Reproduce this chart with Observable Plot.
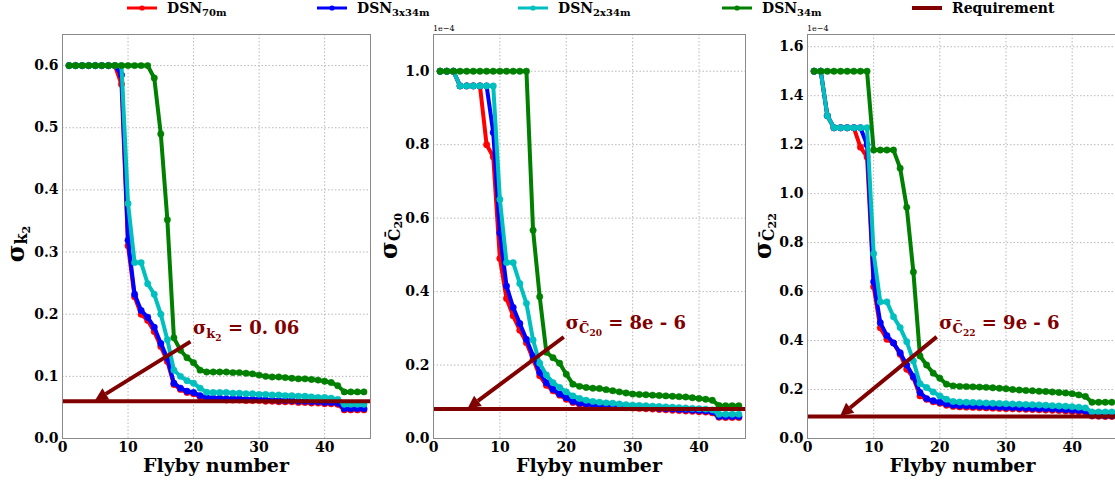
<!DOCTYPE html>
<html><head><meta charset="utf-8">
<script src="https://cdn.jsdelivr.net/npm/d3@7"></script>
<script src="https://cdn.jsdelivr.net/npm/@observablehq/plot@0.6"></script>
<style>
html,body{margin:0;padding:0;}
body{width:1115px;height:483px;overflow:hidden;background:#fff;position:relative;font-family:"DejaVu Serif",serif;}
.panel{position:absolute;top:0;width:380px;height:483px;}
.panel svg{max-width:none !important;}
#legend{position:absolute;top:0;left:0;width:1115px;height:20px;}
</style></head><body>
<svg id="legend" width="1115" height="20"></svg>
<div id="p1" class="panel" style="left:0px"></div>
<div id="p2" class="panel" style="left:375px"></div>
<div id="p3" class="panel" style="left:750px"></div>
<script>
// ---------------- data ----------------
const flyby = [1,2,3,4,5,6,7,8,9,10,11,12,13,14,15,16,17,18,19,20,21,22,23,24,25,26,27,28,29,30,31,32,33,34,35,36,37,38,39,40,41,42,43,44,45,46];
const seriesNames = ["DSN70m","DSN3x34m","DSN2x34m","DSN34m"];
const seriesSubs = ["70m","3x34m","2x34m","34m"];
const seriesColors = ["#ff0000","#0000ff","#00bfbf","#008000"];
const requirementLabel = "Requirement";
const requirementColor = "#800000";

// sigma k2
const k2_70m   = [0.6,0.6,0.6,0.6,0.6,0.6,0.6,0.6,0.57,0.31,0.228,0.20,0.19,0.172,0.148,0.124,0.087,0.079,0.074,0.072,0.067,0.064,0.063,0.063,0.062,0.062,0.062,0.061,0.061,0.061,0.060,0.060,0.059,0.059,0.059,0.058,0.058,0.057,0.057,0.056,0.056,0.055,0.046,0.046,0.046,0.046];
const k2_3x34m = [0.6,0.6,0.6,0.6,0.6,0.6,0.6,0.6,0.585,0.319,0.232,0.206,0.195,0.179,0.153,0.129,0.089,0.081,0.076,0.074,0.069,0.066,0.065,0.065,0.064,0.064,0.064,0.063,0.063,0.063,0.062,0.062,0.061,0.061,0.061,0.060,0.060,0.059,0.059,0.058,0.058,0.057,0.048,0.048,0.048,0.048];
const k2_2x34m = [0.6,0.6,0.6,0.6,0.6,0.6,0.6,0.6,0.6,0.378,0.283,0.283,0.249,0.232,0.20,0.159,0.11,0.10,0.093,0.089,0.081,0.0745,0.074,0.074,0.074,0.073,0.073,0.072,0.072,0.071,0.071,0.070,0.070,0.069,0.069,0.068,0.068,0.067,0.066,0.066,0.065,0.063,0.055,0.055,0.055,0.055];
const k2_34m   = [0.6,0.6,0.6,0.6,0.6,0.6,0.6,0.6,0.6,0.6,0.6,0.6,0.6,0.58,0.49,0.352,0.162,0.142,0.13,0.122,0.11,0.107,0.107,0.107,0.107,0.106,0.106,0.105,0.104,0.102,0.100,0.099,0.099,0.098,0.097,0.096,0.096,0.095,0.094,0.092,0.090,0.085,0.075,0.075,0.075,0.075];

// sigma C20 (x 1e-4)
const c20_70m   = [1.0,1.0,1.0,0.96,0.96,0.96,0.96,0.80,0.767,0.49,0.381,0.334,0.295,0.261,0.216,0.171,0.145,0.13,0.118,0.107,0.098,0.093,0.091,0.089,0.088,0.087,0.086,0.085,0.084,0.083,0.082,0.081,0.080,0.079,0.078,0.077,0.076,0.075,0.074,0.073,0.072,0.070,0.058,0.057,0.057,0.057];
const c20_3x34m = [1.0,1.0,1.0,0.96,0.96,0.96,0.96,0.96,0.833,0.56,0.415,0.357,0.313,0.27,0.225,0.18,0.152,0.134,0.121,0.111,0.101,0.096,0.094,0.092,0.091,0.090,0.089,0.088,0.087,0.086,0.085,0.084,0.083,0.082,0.081,0.080,0.079,0.078,0.077,0.076,0.075,0.073,0.060,0.060,0.060,0.060];
const c20_2x34m = [1.0,1.0,1.0,0.96,0.96,0.96,0.96,0.96,0.96,0.651,0.479,0.479,0.422,0.368,0.268,0.205,0.173,0.152,0.139,0.127,0.116,0.109,0.104,0.101,0.099,0.097,0.096,0.094,0.092,0.091,0.090,0.089,0.088,0.087,0.086,0.085,0.084,0.083,0.082,0.081,0.080,0.078,0.066,0.066,0.066,0.066];
const c20_34m   = [1.0,1.0,1.0,1.0,1.0,1.0,1.0,1.0,1.0,1.0,1.0,1.0,1.0,1.0,0.567,0.386,0.235,0.22,0.205,0.175,0.148,0.142,0.139,0.137,0.136,0.133,0.130,0.127,0.124,0.121,0.120,0.119,0.118,0.117,0.116,0.115,0.114,0.113,0.111,0.109,0.107,0.104,0.090,0.089,0.089,0.089];

// sigma C22 (x 1e-4)
const c22_70m   = [1.5,1.5,1.318,1.269,1.269,1.269,1.269,1.19,1.15,0.62,0.452,0.405,0.39,0.344,0.283,0.249,0.174,0.16,0.15,0.144,0.136,0.131,0.129,0.128,0.127,0.126,0.125,0.124,0.123,0.122,0.121,0.120,0.119,0.118,0.117,0.116,0.115,0.114,0.112,0.110,0.109,0.107,0.092,0.091,0.090,0.090];
const c22_3x34m = [1.5,1.5,1.318,1.269,1.269,1.269,1.269,1.269,1.2,0.64,0.473,0.42,0.39,0.35,0.30,0.253,0.188,0.163,0.154,0.148,0.141,0.136,0.134,0.133,0.132,0.131,0.130,0.129,0.128,0.127,0.126,0.125,0.124,0.123,0.122,0.121,0.120,0.119,0.117,0.115,0.114,0.112,0.095,0.094,0.093,0.093];
const c22_2x34m = [1.5,1.5,1.318,1.269,1.269,1.269,1.269,1.269,1.269,0.755,0.558,0.558,0.497,0.453,0.395,0.317,0.224,0.208,0.19,0.174,0.16,0.151,0.149,0.148,0.147,0.146,0.145,0.144,0.143,0.142,0.141,0.140,0.139,0.138,0.137,0.136,0.134,0.133,0.132,0.130,0.128,0.125,0.108,0.108,0.108,0.108];
const c22_34m   = [1.5,1.5,1.5,1.5,1.5,1.5,1.5,1.5,1.5,1.178,1.178,1.178,1.178,1.104,0.944,0.68,0.337,0.30,0.267,0.246,0.222,0.215,0.213,0.212,0.211,0.210,0.209,0.207,0.205,0.203,0.200,0.198,0.196,0.195,0.193,0.192,0.190,0.188,0.186,0.183,0.178,0.172,0.148,0.148,0.148,0.148];

const requirements = [0.06, 0.08, 0.09];
const xTicks = [0,10,20,30,40];
const yTicksK2  = [0,0.1,0.2,0.3,0.4,0.5,0.6];
const yTicksC20 = [0,0.2,0.4,0.6,0.8,1.0];
const yTicksC22 = [0,0.2,0.4,0.6,0.8,1.0,1.2,1.4,1.6];

// annotation arrows: [x1,y1,x2,y2] (data units)
const arrowK2  = [19.6,0.155,5.0,0.060];
const arrowC20 = [19.7,0.275,5.2,0.080];
const arrowC22 = [19.6,0.413,5.0,0.090];
const annotK2  = {x:20, y:0.168, parts:[["σ",18,0],["k",13,4],["2",9,7],[" = 0. 06",18,0]]};
const annotC20 = {x:20, y:0.297, parts:[["σ",18,0],["C\u0304",13,4],["20",9,7],[" = 8e - 6",18,0]]};
const annotC22 = {x:20, y:0.446, parts:[["σ",18,0],["C\u0304",13,4],["22",9,7],[" = 9e - 6",18,0]]};
const ylabK2  = [["σ",24,0],["k",16,3],["2",11,6]];
const ylabC20 = [["σ",24,0],["C\u0304",16,3],["20",11,5]];
const ylabC22 = [["σ",24,0],["C\u0304",16,3],["22",11,5]];

const FONT = "DejaVu Serif";

function addParts(textSel, parts) {
  let cur = 0;
  parts.forEach(([t, size, shift]) => {
    textSel.append("tspan").attr("font-size", size).attr("dy", shift - cur).text(t);
    cur = shift;
  });
}

function makePanel(cfg) {
  const marks = [
    Plot.gridX(xTicks, {stroke:"#b8b8b8", strokeOpacity:1, strokeWidth:1, strokeDasharray:"1.5,2"}),
    Plot.gridY(cfg.yticks, {stroke:"#b8b8b8", strokeOpacity:1, strokeWidth:1, strokeDasharray:"1.5,2"})
  ];
  cfg.vals.forEach((arr, si) => {
    const rows = arr.map((v, i) => ({x: flyby[i], y: v}));
    marks.push(Plot.line(rows, {x:"x", y:"y", stroke: seriesColors[si], strokeWidth:4, strokeLinejoin:"round"}));
    marks.push(Plot.dot(rows, {x:"x", y:"y", r:3.2, fill: seriesColors[si], stroke: seriesColors[si], strokeWidth:0.5}));
  });
  marks.push(Plot.ruleY([cfg.req], {stroke: requirementColor, strokeWidth:4}));
  marks.push(Plot.frame({stroke:"#8a8a8a", strokeWidth:1}));

  const plot = Plot.plot({
    width: cfg.width, height: 483,
    marginTop: 34, marginBottom: 45, marginLeft: cfg.ml, marginRight: cfg.mr,
    style: {fontFamily: FONT, fontWeight:"bold", fontSize:"14px", color:"#000", background:"transparent", overflow:"visible", maxWidth:"none"},
    x: {domain:[0,47], ticks: xTicks, tickSize:0, tickPadding:4, label:null, tickFormat: d => String(d)},
    y: {domain: cfg.ydom, ticks: cfg.yticks, tickSize:0, tickPadding:4, label:null, tickFormat: d => d.toFixed(1)},
    marks
  });
  const xs = plot.scale("x"), ys = plot.scale("y");
  const svg = d3.select(plot);
  // arrow (shaft + filled triangular head), positioned through the plot's scales
  const a = cfg.arrow;
  const X1 = xs.apply(a[0]), Y1 = ys.apply(a[1]), X2 = xs.apply(a[2]), Y2 = ys.apply(a[3]);
  const ang = Math.atan2(Y2 - Y1, X2 - X1);
  const hl = 13, hw = 6.5;
  const bx = X2 - hl * Math.cos(ang), by = Y2 - hl * Math.sin(ang);
  svg.append("line").attr("x1", X1).attr("y1", Y1).attr("x2", bx).attr("y2", by)
    .attr("stroke", requirementColor).attr("stroke-width", 4);
  svg.append("path").attr("fill", requirementColor)
    .attr("d", `M${X2},${Y2}L${bx + hw*Math.sin(ang)},${by - hw*Math.cos(ang)}L${bx - hw*Math.sin(ang)},${by + hw*Math.cos(ang)}Z`);
  // annotation text with sub/subscripts
  const at = svg.append("text").attr("x", xs.apply(cfg.annot.x)).attr("y", ys.apply(cfg.annot.y))
    .attr("text-anchor","start").attr("font-family", FONT).attr("font-weight","bold").attr("fill", requirementColor);
  addParts(at, cfg.annot.parts);
  // x label
  svg.append("text").attr("x", (cfg.ml + (cfg.width - cfg.mr)) / 2).attr("y", 472)
    .attr("text-anchor","middle").attr("font-family", FONT).attr("font-weight","bold").attr("font-size",19)
    .attr("fill","#000").text("Flyby number");
  // y label
  const yl = svg.append("text").attr("transform", `translate(${cfg.ylx},${cfg.yly}) rotate(-90)`)
    .attr("text-anchor","middle").attr("font-family", FONT).attr("font-weight","bold").attr("fill","#000");
  addParts(yl, cfg.ylab);
  if (cfg.offset) {
    svg.append("text").attr("x", cfg.ml).attr("y", 31).attr("text-anchor","start").attr("font-family", FONT).attr("font-size",8)
      .attr("font-weight","normal").attr("fill","#000").text(cfg.offset);
  }
  document.getElementById(cfg.el).appendChild(plot);
}

makePanel({el:"p1", width:380, ml:62, mr:10, ydom:[0,0.65], yticks:yTicksK2, vals:[k2_70m,k2_3x34m,k2_2x34m,k2_34m], req:requirements[0], arrow:arrowK2, annot:annotK2, ylab:ylabK2, ylx:24, yly:244});
makePanel({el:"p2", width:380, ml:58, mr:10, ydom:[0,1.1], yticks:yTicksC20, vals:[c20_70m,c20_3x34m,c20_2x34m,c20_34m], req:requirements[1], arrow:arrowC20, annot:annotC20, ylab:ylabC20, ylx:22, yly:236, offset:"1e\u22124"});
makePanel({el:"p3", width:380, ml:57, mr:12, ydom:[0,1.65], yticks:yTicksC22, vals:[c22_70m,c22_3x34m,c22_2x34m,c22_34m], req:requirements[2], arrow:arrowC22, annot:annotC22, ylab:ylabC22, ylx:21, yly:236, offset:"1e\u22124"});

// legend
const lg = d3.select("#legend");
const legendX = [127, 317, 518, 722, 912];
const items = seriesNames.map((n, i) => ({base:"DSN", sub: seriesSubs[i], color: seriesColors[i], marker:true}))
  .concat([{base: requirementLabel, sub:"", color: requirementColor, marker:false}]);
items.forEach((it, i) => {
  const x0 = legendX[i];
  lg.append("line").attr("x1", x0).attr("x2", x0 + 30).attr("y1", 8).attr("y2", 8)
    .attr("stroke", it.color).attr("stroke-width", it.marker ? 3 : 4);
  if (it.marker) lg.append("circle").attr("cx", x0 + 15).attr("cy", 8).attr("r", 2.6).attr("fill", it.color);
  const t = lg.append("text").attr("x", x0 + 40).attr("y", 13).attr("font-family", FONT).attr("font-weight","bold").attr("font-size",14).attr("fill","#000");
  t.append("tspan").text(it.base);
  if (it.sub) t.append("tspan").attr("font-size",10).attr("dy",3).text(it.sub);
});
</script>
</body></html>
